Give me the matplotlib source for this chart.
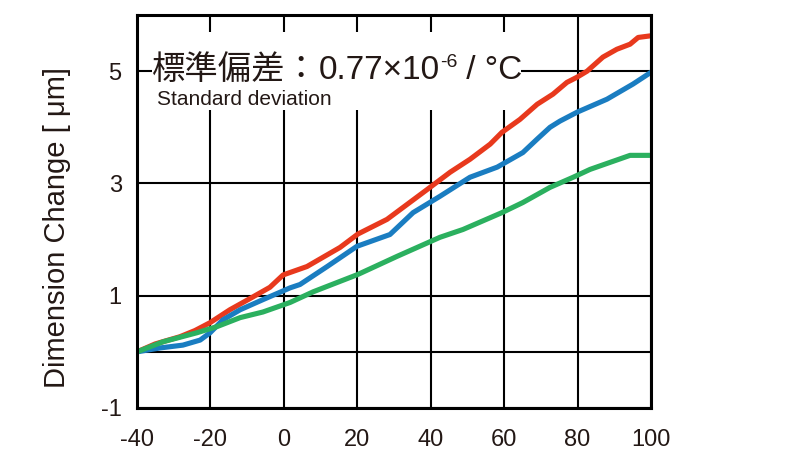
import matplotlib
matplotlib.use("Agg")
import matplotlib.pyplot as plt
from matplotlib.patches import Rectangle

plt.rcParams['axes.unicode_minus'] = False

# ---- data ----
red_x = [-40, -35.1, -28.3, -24.2, -20.1, -14.7, -9.2, -3.8, -0.2, 6.3, 15.3, 20.2, 28.1, 39.0,
         45.3, 50.7, 56.2, 59.4, 64.3, 69.0, 73.3, 77.1, 79.8, 82.6, 86.9, 90.7, 94.3, 96.5, 100]
red_y = [0, 0.14, 0.27, 0.38, 0.52, 0.75, 0.95, 1.15, 1.37, 1.52, 1.86, 2.10, 2.36, 2.89,
         3.20, 3.43, 3.70, 3.91, 4.14, 4.41, 4.59, 4.80, 4.89, 5.00, 5.25, 5.39, 5.48, 5.60, 5.63]

blue_x = [-40, -33.7, -27.5, -22.8, -20.1, -16.6, -11.9, -5.7, 1.7, 4.4, 11.8, 19.9, 28.9, 35.2,
          42.5, 50.7, 58.1, 65.1, 69.0, 72.5, 75.2, 79.9, 88.0, 95.1, 100]
blue_y = [0, 0.07, 0.12, 0.21, 0.34, 0.57, 0.75, 0.93, 1.14, 1.20, 1.52, 1.88, 2.09, 2.48,
          2.77, 3.11, 3.29, 3.55, 3.79, 4.00, 4.11, 4.27, 4.50, 4.77, 4.98]

green_x = [-40, -32.9, -23.7, -18.2, -11.9, -5.7, 1.7, 8.0, 20.2, 30.8, 42.5, 48.8, 59.4, 65.1,
           72.5, 78.8, 83.4, 94.3, 100]
green_y = [0, 0.18, 0.34, 0.45, 0.61, 0.71, 0.88, 1.07, 1.38, 1.70, 2.04, 2.18, 2.48, 2.66,
           2.93, 3.11, 3.25, 3.50, 3.50]

x_ticks = [-40, -20, 0, 20, 40, 60, 80, 100]
y_ticks = [-1, 1, 3, 5]
y_minor = [0]

ylabel = "Dimension Change [ \u03bcm]"
title_jp = "標準偏差："
title_num = "0.77×10"
title_sup = "-6"
title_unit = " / °C"
subtitle = "Standard deviation"

TXT = "#231815"
RED = "#e8391d"
BLUE = "#1a7dc1"
GREEN = "#2bb05f"

fig = plt.figure(figsize=(7.91, 4.67), dpi=100)
ax = fig.add_axes([137/791, 1 - 408/467, 514/791, 393/467])

ax.plot(red_x, red_y, color=RED, lw=3.7, zorder=3, solid_joinstyle='round')
ax.plot(blue_x, blue_y, color=BLUE, lw=3.7, zorder=3.1, solid_joinstyle='round')
ax.plot(green_x, green_y, color=GREEN, lw=3.7, zorder=3.2, solid_joinstyle='round')

ax.set_xlim(-40, 100)
ax.set_ylim(-1, 6)
ax.set_xticks(x_ticks)
ax.set_yticks(y_ticks)
ax.set_yticks(y_minor, minor=True)
ax.set_axisbelow(True)
ax.grid(True, which='both', color='black', lw=1.5)
ax.tick_params(which='both', length=0)
ax.tick_params(axis='x', pad=15, labelsize=17, labelcolor=TXT)
ax.tick_params(axis='y', pad=11, labelsize=17, labelcolor=TXT)
for lab in ax.get_xticklabels() + ax.get_yticklabels():
    lab.set_fontfamily('Liberation Sans')
for s in ax.spines.values():
    s.set_linewidth(2.2)
    s.set_color('black')
    s.set_zorder(5)

ax.set_ylabel(ylabel, fontsize=21, family=['Liberation Sans', 'DejaVu Sans'], color=TXT)
ax.yaxis.set_label_coords(-0.128, 0.46)

# white panel behind the annotation
ax.add_patch(Rectangle((0.029, 0.758), 0.718, 0.199, transform=ax.transAxes,
                       facecolor='white', edgecolor='none', zorder=1))

base_y = 0.838
t1 = ax.text(0.029, base_y, title_jp, transform=ax.transAxes, fontsize=24,
             family=['Noto Sans CJK JP'], color=TXT, va='baseline', ha='left', zorder=4)
fig.canvas.draw()
r = fig.canvas.get_renderer()
inv = ax.transAxes.inverted()

def next_x(t):
    bb = t.get_window_extent(r)
    return inv.transform((bb.x1, bb.y0))[0]

t2 = ax.text(next_x(t1), base_y, title_num, transform=ax.transAxes, fontsize=24,
             family=['Liberation Sans'], color=TXT, va='baseline', ha='left', zorder=4)
fig.canvas.draw()
sup_dy = 12 / 393
t3 = ax.text(next_x(t2), base_y + sup_dy, title_sup, transform=ax.transAxes, fontsize=14,
             family=['Liberation Sans'], color=TXT, va='baseline', ha='left', zorder=4)
fig.canvas.draw()
t4 = ax.text(next_x(t3), base_y, title_unit, transform=ax.transAxes, fontsize=24,
             family=['Liberation Sans'], color=TXT, va='baseline', ha='left', zorder=4)

ax.text(0.039, 0.771, subtitle, transform=ax.transAxes, fontsize=15,
        family=['Liberation Sans'], color=TXT, va='baseline', ha='left', zorder=4)

fig.savefig("out.png", dpi=100)
